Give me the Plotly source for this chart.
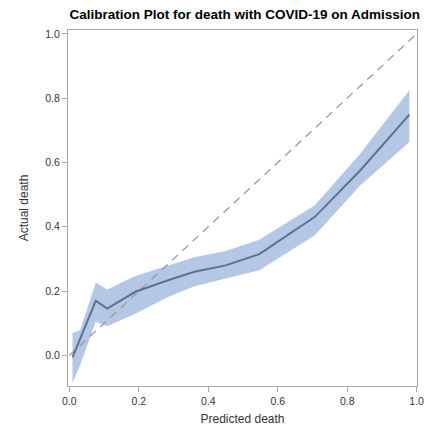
import plotly.graph_objects as go

pred = [0.009, 0.031, 0.076, 0.109, 0.19, 0.284, 0.36, 0.45, 0.547, 0.707, 0.838, 0.979]
actual = [-0.006, 0.052, 0.17, 0.146, 0.198, 0.234, 0.26, 0.28, 0.315, 0.431, 0.576, 0.749]
upper = [0.07, 0.079, 0.226, 0.205, 0.247, 0.28, 0.305, 0.325, 0.36, 0.467, 0.628, 0.825]
lower = [-0.086, -0.03, 0.105, 0.091, 0.13, 0.182, 0.215, 0.24, 0.265, 0.374, 0.529, 0.664]
ref_line = [0, 1]
ticks = [0.0, 0.2, 0.4, 0.6, 0.8, 1.0]
tick_text = ["0.0", "0.2", "0.4", "0.6", "0.8", "1.0"]

FONT = "Liberation Sans, Arial, sans-serif"

fig = go.Figure()
fig.add_trace(go.Scatter(
    x=pred + pred[::-1], y=upper + lower[::-1],
    fill="toself", fillcolor="#b4c8e6", line=dict(width=0),
    mode="lines", hoverinfo="skip", showlegend=False))
fig.add_trace(go.Scatter(
    x=ref_line, y=ref_line, mode="lines",
    line=dict(color="#9a9a9a", width=1.3, dash="8px,6px"), showlegend=False))
fig.add_trace(go.Scatter(
    x=pred, y=actual, mode="lines",
    line=dict(color="#5b7291", width=2), showlegend=False))

axis_common = dict(
    tickvals=ticks, ticktext=tick_text, showgrid=False, zeroline=False,
    showline=True, linecolor="#a8a8a8", linewidth=1, mirror=True,
    ticks="outside", ticklen=5, tickcolor="#a8a8a8", tickwidth=1,
    ticklabeloverflow="allow",
    tickfont=dict(family=FONT, size=10.5, color="#333333"),
)

fig.update_layout(
    width=427, height=431,
    margin=dict(l=68, r=3, t=30, b=45),
    paper_bgcolor="white", plot_bgcolor="white",
    title=dict(text="<b>Calibration Plot for death with COVID-19 on Admission</b>",
               x=0.573, xanchor="center", y=0.967, yanchor="middle",
               font=dict(family=FONT, size=13.5, color="#000000")),
    xaxis=dict(range=[-0.004, 1.001],
               title=dict(text="Predicted death", standoff=9,
                          font=dict(family=FONT, size=12, color="#333333")),
               **axis_common),
    yaxis=dict(range=[-0.095, 1.012],
               title=dict(text="Actual death", standoff=14,
                          font=dict(family=FONT, size=12, color="#333333")),
               **axis_common),
)

fig.write_html("out.html", config={"displayModeBar": False},
               post_script="document.body.style.margin='0';document.body.style.overflow='hidden';")
